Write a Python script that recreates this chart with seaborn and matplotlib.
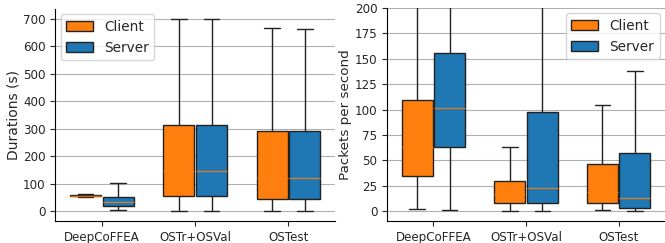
import numpy as np
import pandas as pd
import matplotlib
matplotlib.use("Agg")
import matplotlib.pyplot as plt
import seaborn as sns

# === Data: five-number summaries (min, q1, median, q3, max) ===
datasets = ["DeepCoFFEA", "OSTr+OSVal", "OSTest"]
sides = ["Client", "Server"]

dur_client = [[52, 55, 57, 60, 63], [2, 57, 147, 313, 700], [2, 45, 122, 292, 665]]
dur_server = [[5, 20, 35, 53, 103], [0, 57, 148, 313, 700], [0, 45, 122, 292, 663]]

pps_client = [[2, 34, 63, 109, 400], [0, 8, 17, 30, 63], [1, 8, 19, 46, 104]]
pps_server = [[1, 63, 101, 156, 400], [0, 8, 23, 98, 400], [0, 3, 13, 57, 138]]


def to_frame(client, server):
    rows = []
    for side, stats in zip(sides, [client, server]):
        for name, vals in zip(datasets, stats):
            for v in vals:
                rows.append({"dataset": name, "side": side, "value": v})
    return pd.DataFrame(rows)


df_dur = to_frame(dur_client, dur_server)
df_pps = to_frame(pps_client, pps_server)

palette = {"Client": "#ff7f0e", "Server": "#1f77b4"}

sns.set_style("white")
plt.rcParams["font.family"] = ["DejaVu Sans"]

fig = plt.figure(figsize=(6.65, 2.43), dpi=100)
ax1 = fig.add_axes([0.083, 0.09, 0.421, 0.873])
ax2 = fig.add_axes([0.582, 0.09, 0.418, 0.877])

box_kw = dict(x="dataset", y="value", hue="side", palette=palette, order=datasets,
              hue_order=sides, whis=(0, 100), width=0.7, gap=0.05, saturation=1,
              showfliers=False, linecolor="#222222", linewidth=1.0,
              medianprops=dict(color="#ff7f0e", alpha=0.8, linewidth=1.0))

sns.boxplot(data=df_dur, ax=ax1, **box_kw)
sns.boxplot(data=df_pps, ax=ax2, **box_kw)

ax1.set_ylim(-35, 735)
ax1.set_yticks(np.arange(0, 701, 100))
ax1.set_ylabel("Durations (s)", fontsize=10, labelpad=1.5)

ax2.set_ylim(-10, 200)
ax2.set_yticks(np.arange(0, 201, 25))
ax2.set_ylabel("Packets per second", fontsize=9.7, labelpad=1.5)

for ax in (ax1, ax2):
    ax.set_xlabel("")
    ax.set_xlim(-0.5, 2.5)
    ax.yaxis.grid(True, color="#b0b0b0", linewidth=0.8)
    ax.set_axisbelow(True)
    ax.tick_params(axis="both", labelsize=8.6, length=3.5, width=0.8, left=True, bottom=True)
    for s in ["top", "right"]:
        ax.spines[s].set_visible(False)
    for s in ["left", "bottom"]:
        ax.spines[s].set_color("black")
        ax.spines[s].set_linewidth(0.8)

ax1.legend(loc="upper left", fontsize=9.8, handlelength=2.0, borderaxespad=0.4)
ax2.legend(loc="upper right", fontsize=9.8, handlelength=2.0, borderaxespad=0.4)

fig.savefig("out.png", dpi=100)
